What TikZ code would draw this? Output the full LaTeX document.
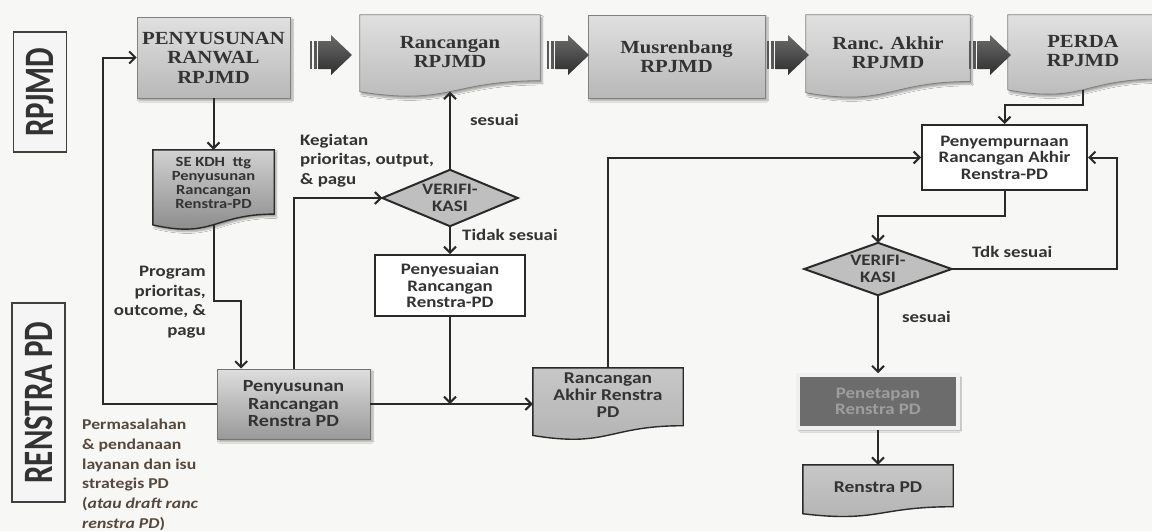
\documentclass[tikz,border=0pt]{standalone}
\usepackage{fontspec}
\usepackage{graphicx}
\usetikzlibrary{arrows.meta,calc,backgrounds,shadows.blur}

\newfontfamily\cbr[FakeStretch=1.18]{Carlito}
\newfontfamily\cbn{Carlito}
\newfontfamily\tms[FakeStretch=1.12]{Liberation Serif}

\definecolor{bgc}{HTML}{F7F7F6}
\definecolor{ink}{HTML}{2A2A2A}
\definecolor{txt}{HTML}{333333}
\definecolor{brn}{HTML}{55483C}
\definecolor{fixd}{HTML}{6C6C6C}

\newcommand\sz[2]{\fontsize{#1}{#2}\selectfont}

% flowchart "document" outline around a node; #3 = extra depth of the wavy foot
\newcommand\docpath[3]{%
  \path[#1] let \p1=(#2.north west), \p2=($(#2.south east)+(0,#3)$) in
    (\x1,\y1) -- (\x2,\y1) -- (\x2,{\y1+0.80*(\y2-\y1)})
    .. controls ({0.5*(\x1+\x2)},{\y1+0.80*(\y2-\y1)})
            and ({0.5*(\x1+\x2)},{\y1+1.107*(\y2-\y1)})
    .. (\x1,{\y1+0.934*(\y2-\y1)}) -- cycle
    ({0.5*(\x1+\x2)},{\y1+0.933*(\y2-\y1)}) coordinate (#2-b);}

\tikzset{
  conn/.style={draw=ink, line width=2pt},
  arr/.style={conn, -{Straight Barb[length=6pt,width=12pt]}},
  plain/.style={rectangle, inner sep=0pt, align=center},
  toptext/.style={plain, font=\tms\bfseries\sz{18.5}{19.5}, text=txt},
  sanstext/.style={font=\cbr\bfseries\sz{16}{16.5}, text=txt},
  softshadow/.style={blur shadow={shadow xshift=2pt, shadow yshift=-2.5pt, shadow blur steps=6, shadow opacity=35}},
  topbox/.style={toptext, draw=black!50, line width=0.8pt, top color=black!12, bottom color=black!28, softshadow},
  topdoc/.style={draw=black!50, line width=0.8pt, top color=black!12, bottom color=black!28, softshadow},
  darkdoc/.style={draw=ink, line width=1.4pt, top color=black!18, bottom color=black!48},
  greydoc/.style={draw=ink, line width=1.4pt, top color=black!22, bottom color=black!30},
  whitebox/.style={plain, sanstext, draw=ink, line width=2pt, fill=white},
  lanebox/.style={plain, draw=black!75, line width=1.5pt, fill=black!4, text=txt, font=\cbn\bfseries\sz{31}{31}},
  decision/.style={fill=black!25, draw=ink, line width=2pt},
  note/.style={inner sep=0pt, font=\cbr\bfseries\sz{16}{19.5}, text=txt},
  blockarrow/.pic={
    \fill[black!66] (-21,-14) rectangle (-19,14);
    \fill[black!66] (-17.5,-14) rectangle (-14,14);
    \shade[top color=black!58, bottom color=black!82]
      (-12.5,-14) -- (0,-14) -- (0,-20) -- (21,0) -- (0,20) -- (0,14) -- (-12.5,14) -- cycle;
  },
}

\begin{document}
\begin{tikzpicture}[x=1pt,y=-1pt]
\useasboundingbox (0,0) rectangle (1152,531);

% lane labels
\node[lanebox, minimum width=53pt, minimum height=120pt] (L1) at (40,92)
  {\rotatebox{90}{\scalebox{1}[1.35]{RPJMD}}};
\node[lanebox, minimum width=53pt, minimum height=199pt] (L2) at (38.5,402.5)
  {\rotatebox{90}{\scalebox{1}[1.35]{RENSTRA PD}}};

% RPJMD row
\node[topbox, minimum width=153pt, minimum height=81pt] (T1) at (213.5,57.5) {PENYUSUNAN\\RANWAL\\RPJMD};
\node[toptext, minimum width=180pt, minimum height=74pt] (T2) at (450,52) {Rancangan\\RPJMD};
\node[topbox, minimum width=177pt, minimum height=83pt] (T3) at (676.5,56.5) {Musrenbang\\RPJMD};
\node[toptext, minimum width=164pt, minimum height=75pt] (T4) at (888,52.5) {Ranc. Akhir\\RPJMD};
\node[toptext, minimum width=150pt, minimum height=72pt] (T5) at (1083,51) {PERDA\\RPJMD};

% Renstra row
\node[plain, font=\cbr\bfseries\sz{14}{14.3}, text=txt, minimum width=121pt, minimum height=66pt] (S1) at (213.5,183)
  {SE KDH\ \ ttg\\Penyusunan\\Rancangan\\Renstra-PD};
\node[plain, sanstext, font=\cbr\bfseries\sz{17}{17.5}, draw=black!55, line width=0.9pt,
      top color=black!13, bottom color=black!40, softshadow,
      minimum width=153pt, minimum height=70pt] (P1) at (293.5,404) {Penyusunan\\Rancangan\\Renstra PD};
\node[plain, sanstext, minimum width=135pt, minimum height=56pt] (D1) at (450,198) {VERIFI-\\KASI};
\node[whitebox, minimum width=150pt, minimum height=61pt] (Q1) at (450,285.5) {Penyesuaian\\Rancangan\\Renstra-PD};
\node[plain, sanstext, font=\cbr\bfseries\sz{16.5}{17}, minimum width=150pt, minimum height=54pt] (R2) at (608,395)
  {Rancangan\\Akhir Renstra\\PD};
\node[whitebox, minimum width=165pt, minimum height=65pt] (R1) at (1004.5,157.5) {Penyempurnaan\\Rancangan Akhir\\Renstra-PD};
\node[plain, sanstext, minimum width=147pt, minimum height=52pt] (D2) at (878,269) {VERIFI-\\KASI};
\node[plain, sanstext, text=black!38, fill=fixd, draw=black!6, line width=3.5pt, softshadow,
      minimum width=160pt, minimum height=53pt] (E1) at (878,401.5) {Penetapan\\Renstra PD};
\node[plain, sanstext, font=\cbr\bfseries\sz{16.5}{17}, minimum width=150pt, minimum height=44pt] (F1) at (878,487) {Renstra PD};

% side notes
\node[note, anchor=north east, align=right] (nprog) at (206,266) {Program\\prioritas,\\outcome, \&\\pagu};
\node[note, anchor=north west, align=left] (nkeg) at (300,134) {Kegiatan\\prioritas, output,\\\& pagu};
\node[note, anchor=north west, align=left, font=\cbr\bfseries\sz{15}{19.7}, text=brn] (nperm) at (82,419)
  {Permasalahan\\\& pendanaan\\layanan dan isu\\strategis PD\\(\textit{atau draft ranc}\\\textit{renstra PD})};
\node[note, anchor=west] (ls1) at (470,120) {sesuai};
\node[note, anchor=west] (lt1) at (462,235) {Tidak sesuai};
\node[note, anchor=west] (lt2) at (972,252) {Tdk sesuai};
\node[note, anchor=west] (ls2) at (902,317) {sesuai};

% shapes behind the texts
\begin{scope}[on background layer]
  \fill[bgc] (0,0) rectangle (1152,531);
  \docpath{topdoc}{T2}{8}
  \docpath{topdoc}{T4}{8}
  \docpath{topdoc}{T5}{8}
  \docpath{darkdoc, softshadow}{S1}{14}
  \docpath{greydoc}{R2}{18}
  \docpath{greydoc}{F1}{8}
  \path[decision] (D1.west) -- (D1.north) -- (D1.east) -- (D1.south) -- cycle;
  \path[decision] (D2.west) -- (D2.north) -- (D2.east) -- (D2.south) -- cycle;
\end{scope}

% block arrows of the RPJMD row
\pic at (331,55) {blockarrow};
\pic at (568,55) {blockarrow};
\pic at (788,55) {blockarrow};
\pic at (990,55) {blockarrow};

% connectors
\draw[arr] (T1.south) -- (S1.north);
\draw[arr] (S1-b) -- ++(0,76) -| ($(P1.north west)!0.16!(P1.north east)$);
\draw[arr] (P1.north) |- (D1.west);
\draw[arr] (D1.north) -- (T2-b);
\draw[arr] (D1.south) -- (Q1.north);
\draw[arr] (Q1.south) -- (Q1.south |- P1.east);
\draw[arr] (P1.east) -- (P1.east -| R2.west);
\draw[arr] (P1.west) -- ++(-114,0) |- (T1.west);
\draw[arr] (R2.north) |- (R1.west);
\draw[arr] (T5-b) -- ++(0,15) -| (R1.north);
\draw[arr] (R1.south) -- ++(0,25) -| (D2.north);
\draw[arr] (D2.east) -- ++(165,0) |- (R1.east);
\draw[arr] (D2.south) -- (E1.north);
\draw[arr] (E1.south) -- (F1.north);
\end{tikzpicture}
\end{document}
